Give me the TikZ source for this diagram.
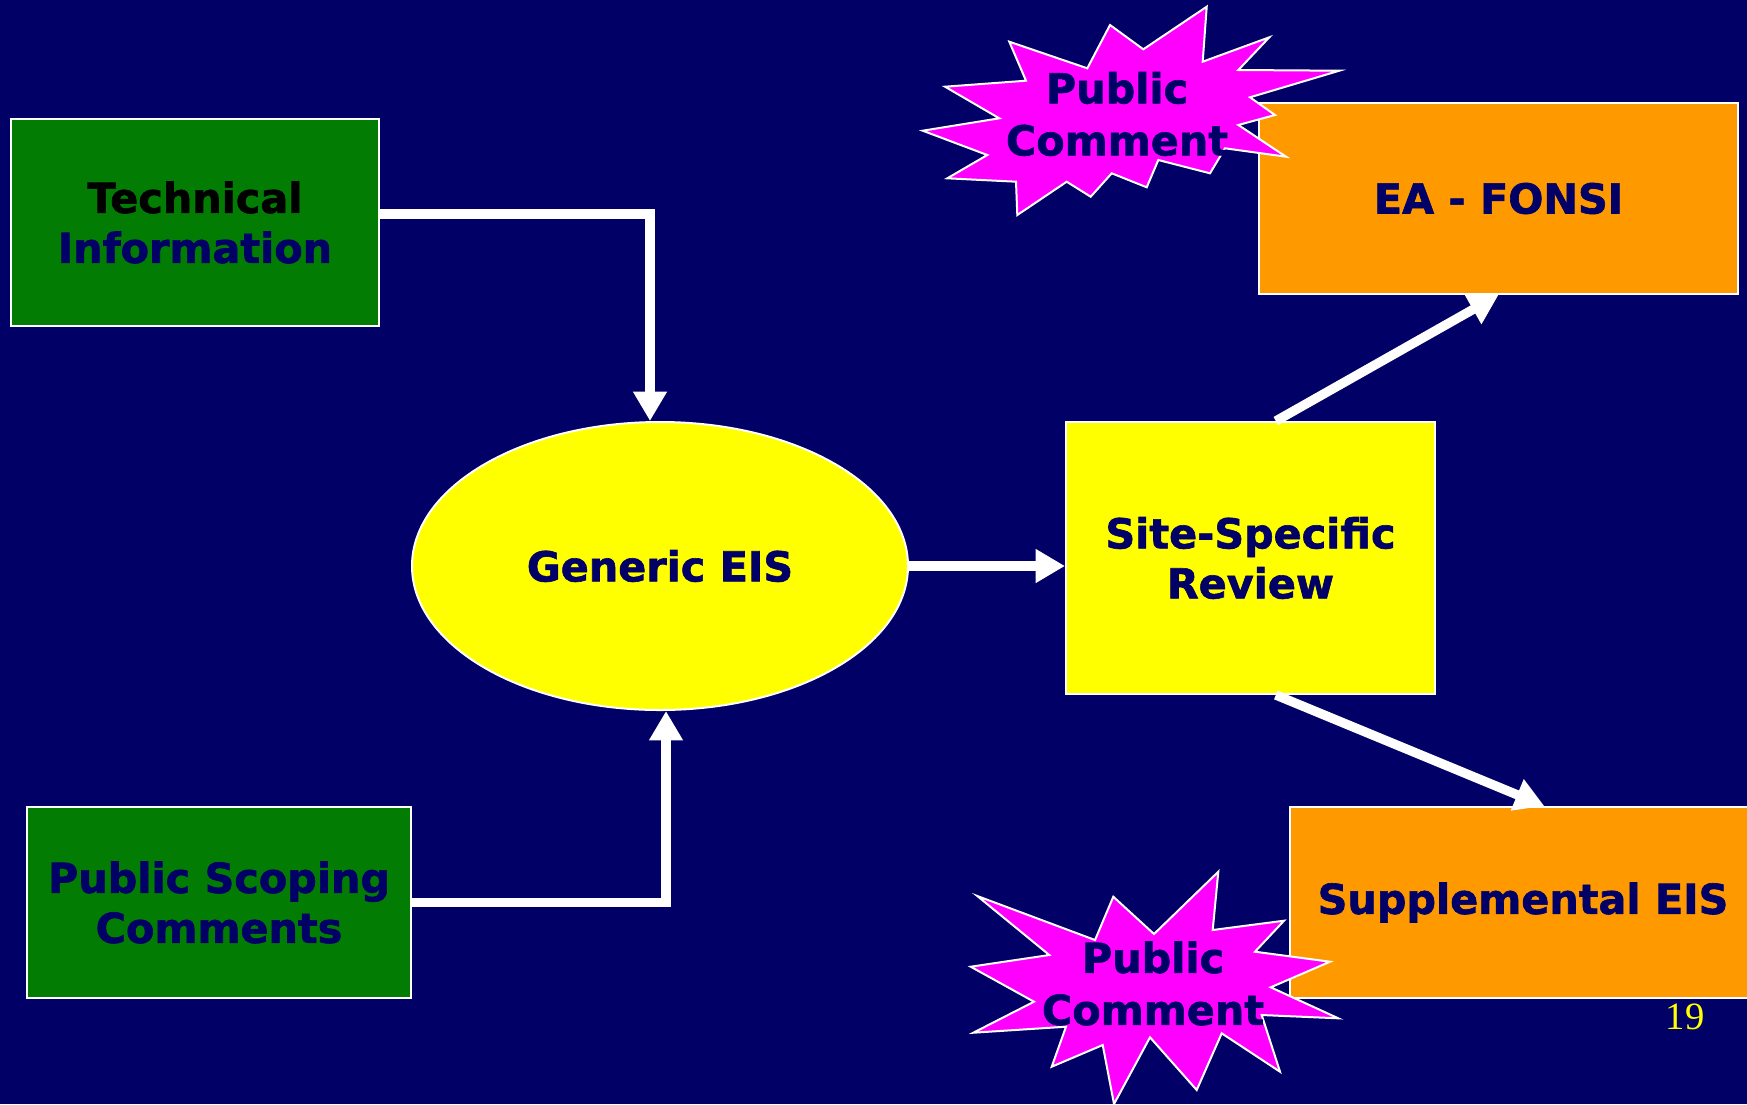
\documentclass[tikz,border=0pt]{standalone}
\usepackage{fontspec}
\setmainfont{DejaVu Sans}[BoldFeatures={FakeBold=1.5}]
\newfontfamily\pagenumfont{Liberation Serif}
\usetikzlibrary{shapes.geometric,arrows.meta}
\definecolor{slidebg}{RGB}{0,0,102}
\definecolor{labelnavy}{RGB}{0,0,102}
\definecolor{boxgreen}{RGB}{2,124,2}
\definecolor{boxyellow}{RGB}{255,255,0}
\definecolor{boxorange}{RGB}{255,153,0}
\definecolor{burstpink}{RGB}{255,0,255}
\tikzset{every picture/.style={line width=0.75pt}}
\tikzset{
  box/.style={draw=white, line width=1.5pt, inner sep=0pt, align=center,
    text=labelnavy, font=\bfseries\fontsize{31}{37.5}\selectfont},
  burst/.style={draw=white, line width=1.5pt, fill=burstpink},
  flow/.style={draw=white, line width=7pt, -{Triangle[length=22pt,width=24pt]}}
}

\begin{document}
\begin{tikzpicture}[x=0.75pt,y=0.75pt,yscale=-1,xscale=1]
\useasboundingbox (0,0) rectangle (1747,1104);
\fill [slidebg] (0,0) rectangle (1747,1104);

%Shape: Rectangle
\node [box, fill=boxgreen, minimum width=276pt, minimum height=155.25pt] (tech) at (195,222.5)
  {{\color{black}Technical}\\Information};
%Shape: Rectangle
\node [box, fill=boxgreen, minimum width=288pt, minimum height=143.25pt] (scope) at (219,902.5)
  {Public Scoping\\Comments};
%Shape: Ellipse
\node [box, ellipse, fill=boxyellow, minimum width=372pt, minimum height=216pt] (generic) at (660,566)
  {Generic EIS};
%Shape: Rectangle
\node [box, fill=boxyellow, minimum width=276.75pt, minimum height=204pt] (site) at (1250.5,558)
  {Site-Specific\\Review};
%Shape: Rectangle
\node [box, fill=boxorange, minimum width=359.25pt, minimum height=143.25pt] (ea) at (1498.5,198.5)
  {EA - FONSI};
%Shape: Rectangle
\node [box, fill=boxorange, minimum width=349.5pt, minimum height=143.25pt] (supp) at (1523,902.5)
  {Supplemental EIS};

%Straight Lines
\draw [flow] ([yshift=-6.4pt]tech.east) -| ([xshift=-7.5pt]generic.north);
%Straight Lines
\draw [flow] (scope.east) -| ([xshift=4.5pt]generic.south);
%Straight Lines
\draw [flow] (generic.east) -- (generic.east -| site.west);
%Straight Lines
\draw [flow] ([xshift=19pt]site.north) -- (ea.south);
%Straight Lines
\draw [flow] ([xshift=19pt]site.south) -- ([xshift=16pt]supp.north);

%Shape: Star
\draw [burst] (1206.7,6.7) -- (1202.7,61.7) -- (1269.3,37.3) -- (1238.3,70) -- (1339.3,70.7) -- (1250,97.3) -- (1275,115) -- (1238.3,125) -- (1286,156.7) -- (1225,148.3) -- (1210,173.3) -- (1158.3,160) -- (1146.7,187.3) -- (1111.7,173.3) -- (1090.7,196.7) -- (1066.7,181.7) -- (1017.3,215) -- (1016,181.7) -- (947.3,178.3) -- (987.3,155) -- (922.7,130.7) -- (999.3,118.3) -- (945,86.7) -- (1026,80.7) -- (1009.3,41.7) -- (1087.3,68.3) -- (1110,25) -- (1143.3,49.3) -- cycle ;
%Shape: Star
\draw [burst] (1218.3,871.7) -- (1212.7,930) -- (1284,920.7) -- (1255,951.7) -- (1330,961.7) -- (1270.7,987.3) -- (1338.3,1018.3) -- (1261.7,1015) -- (1280,1071.7) -- (1221.7,1033.3) -- (1196.7,1090) -- (1150,1037.3) -- (1114,1104) -- (1102.7,1045) -- (1051.7,1066.7) -- (1066,1026.7) -- (973.3,1032.7) -- (1034,1001.7) -- (970.7,966.7) -- (1049.3,955) -- (977.3,896) -- (1095,940) -- (1113.3,896.7) -- (1154,934) -- cycle ;

% Text Node
\node [align=center, text=labelnavy, font=\bfseries\fontsize{31}{39}\selectfont] (commenttop) at (1117,114) {Public\\Comment};
% Text Node
\node [align=center, text=labelnavy, font=\bfseries\fontsize{31}{39}\selectfont] (commentbot) at (1153,983.5) {Public\\Comment};
% Text Node
\node [text=boxyellow, font=\pagenumfont\fontsize{29}{34}\selectfont] (pagenum) at (1685,1017) {19};

\end{tikzpicture}
\end{document}
